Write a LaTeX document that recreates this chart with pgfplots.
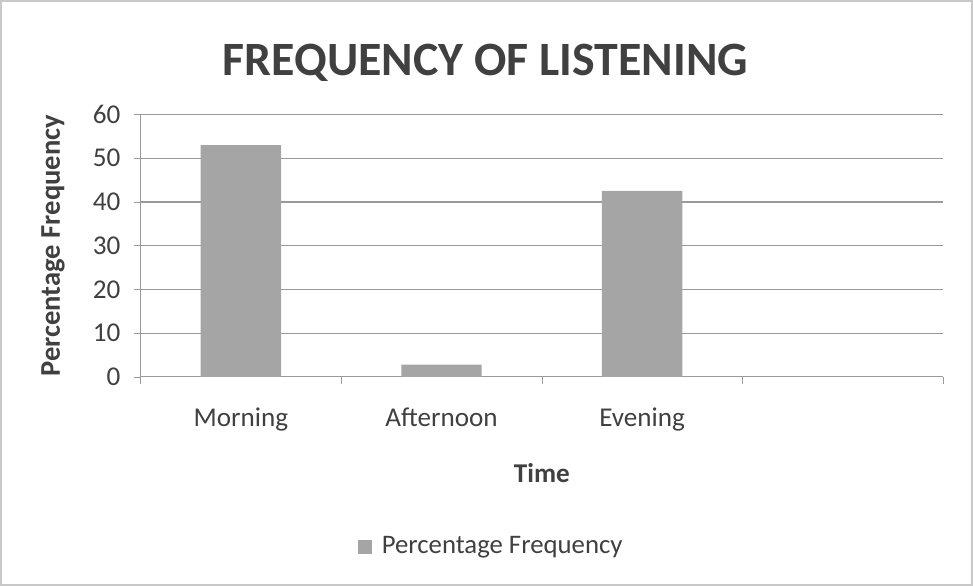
\documentclass[border=0pt]{standalone}
\usepackage{pgfplots}
\pgfplotsset{compat=1.18}
\usepackage{fontspec}
\setmainfont{Carlito}
\definecolor{barcol}{HTML}{A5A5A5}
\definecolor{txtcol}{HTML}{404040}
\definecolor{gridcol}{HTML}{9A9A9A}
\definecolor{framecol}{HTML}{C8C8C8}
\begin{document}
\begin{tikzpicture}[x=1pt,y=1pt]
% outer frame of the chart area
\draw[framecol, line width=0.8pt] (1.5,1.5) rectangle (484.5,292);
\node[font=\bfseries\fontsize{23.8}{26}\selectfont, text=txtcol] at (242.5,261) {FREQUENCY OF LISTENING};
\begin{axis}[
    at={(71pt,105pt)}, anchor=south west,
    scale only axis,
    width=399pt, height=130.5pt,
    ybar, bar width=40pt,
    xmin=-0.5, xmax=3.5,
    ymin=0, ymax=60,
    ytick={0,10,...,60},
    xtick={-0.5,0.5,1.5,2.5,3.5},
    xticklabels={},
    extra x ticks={0,1,2},
    extra x tick labels={Morning,Afternoon,Evening},
    extra x tick style={major tick length=0pt, grid=none},
    axis x line*=bottom, axis y line*=left,
    axis line style={-, gridcol},
    tick style={gridcol},
    tick align=outside,
    major tick length=3.5pt,
    ymajorgrids, grid style={gridcol, line width=0.6pt},
    tick label style={font=\fontsize{13.5}{15}\selectfont, text=txtcol},
    /pgf/number format/assume math mode=true,
    xticklabel style={yshift=-12pt},
    yticklabel style={xshift=-3pt},
    xlabel={Time},
    ylabel={Percentage Frequency},
    label style={font=\bfseries\fontsize{13.5}{15}\selectfont, text=txtcol},
    xlabel style={at={(axis description cs:0.5,-0.368)}, anchor=center},
    ylabel style={at={(axis description cs:-0.109,0.5)}, anchor=center,
      font=\bfseries\fontsize{14.2}{16}\selectfont},
    legend style={at={(axis description cs:0.438,-0.647)}, anchor=center,
      draw=none, fill=none, font=\fontsize{13.3}{15}\selectfont, text=txtcol},
    legend image code/.code={\fill[barcol] (0pt,-3.5pt) rectangle (7pt,3.5pt);},
]
\addplot[fill=barcol, draw=none] coordinates {(0,53) (1,2.8) (2,42.5)};
\legend{\hspace{3pt}Percentage Frequency}
\end{axis}
\end{tikzpicture}
\end{document}
